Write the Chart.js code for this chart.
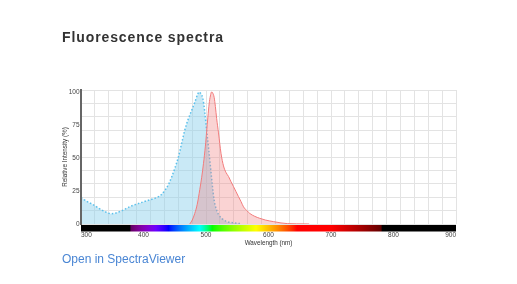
<!DOCTYPE html>
<html><head><meta charset="utf-8">
<script src="https://cdn.jsdelivr.net/npm/chart.js@4.4.0/dist/chart.umd.min.js"></script>
<style>
html,body{margin:0;padding:0;background:#fff;}
#wrap{position:relative;width:517px;height:284px;overflow:hidden;}
#c{position:absolute;left:0;top:0;}
#title{position:absolute;left:62px;top:29px;font:bold 14px/16px "Liberation Sans",Arial,sans-serif;letter-spacing:0.9px;color:#333;white-space:nowrap;}
#link{position:absolute;left:62px;top:252px;font:12px/14px "Liberation Sans",Arial,sans-serif;color:#4a86d4;white-space:nowrap;}
</style></head>
<body><div id="wrap"><canvas id="c" width="517" height="284"></canvas>
<div id="title">Fluorescence spectra</div>
<div id="link">Open in SpectraViewer</div></div>
<script>
const excitationWavelengths = [300,310,320,330,340,348,355,365,380,395,410,420,428,435,440,445,450,456,461,466,472,477,482,486,489,492,495,498,501,504,507,510,513,517,521,525,530,535,545,555];
const excitationValues      = [20,17,14.5,11.5,9,7.8,8.2,10,13.5,16,18.3,19.8,22,26,30,35.5,42,51,61,71,80,86,92,97.5,100,98.5,95,85,71,58,44,30,18,10.5,6.5,4.3,2.5,1.6,0.8,0.3];
const emissionWavelengths = [474,478,482,486,490,493,496,499,501,503,505,507,509,511,513,515,517,520,524,528,532,536,540,544,548,552,556,560,565,570,578,586,595,608,620,630,645,665];
const emissionValues      = [0,3,8,15,26,35,46,59,70,81,91,97,100,99,96,89,80,69,53.5,44,39,36,32,28.3,24.5,20.7,17,13,10.3,8,5.8,4.3,3,1.8,0.8,0.3,0.1,0];
const xTickValues = [300,400,500,600,700,800,900];
const yTickValues = [0,25,50,75,100];
const xRange = [300,900];
const yRange = [0,101.5];
const visibleRange = [380,780];

const F = '"Liberation Sans", Arial, sans-serif';

function wl2rgb(w){
  if (w < visibleRange[0] || w > visibleRange[1]) return 'rgb(0,0,0)';
  let r=0,g=0,b=0;
  if (w<440){r=-(w-440)/60;b=1;}
  else if (w<490){g=(w-440)/50;b=1;}
  else if (w<510){g=1;b=-(w-510)/20;}
  else if (w<580){r=(w-510)/70;g=1;}
  else if (w<645){r=1;g=-(w-645)/65;}
  else {r=1;}
  let f=1;
  if (w<420) f=0.3+0.7*(w-380)/40;
  else if (w>700) f=0.3+0.7*(780-w)/80;
  const c=v=>v<=0?0:Math.round(255*Math.pow(v*f,0.8));
  return 'rgb('+c(r)+','+c(g)+','+c(b)+')';
}

const spectrumBar = {
  id:'spectrumBar',
  afterDraw(chart){
    const {ctx, chartArea:a, scales:{x}} = chart;
    const x0=a.left, x1=a.right;
    const g=ctx.createLinearGradient(x0,0,x1,0);
    for (let w=x.min; w<=x.max; w+=2){
      const p=(x.getPixelForValue(w)-x0)/(x1-x0);
      g.addColorStop(Math.min(1,Math.max(0,p)), wl2rgb(w));
    }
    ctx.save();
    ctx.fillStyle=g;
    ctx.fillRect(x0,a.bottom+1,x1-x0,6.5);
    ctx.restore();
  }
};

const toPts=(xs,ys)=>xs.map((w,i)=>({x:w,y:ys[i]}));

new Chart(document.getElementById('c'),{
  type:'line',
  data:{datasets:[
    {label:'Emission',data:toPts(emissionWavelengths,emissionValues),borderColor:'#f27b7b',backgroundColor:'rgba(240,128,128,0.35)',borderWidth:1,fill:'origin',pointRadius:0,cubicInterpolationMode:'monotone',xAxisID:'x',yAxisID:'y'},
    {label:'Excitation',data:toPts(excitationWavelengths,excitationValues),borderColor:'#5bc0eb',backgroundColor:'rgba(135,206,235,0.45)',borderWidth:1.5,borderDash:[1.5,2],fill:'origin',pointRadius:0,cubicInterpolationMode:'monotone',xAxisID:'x',yAxisID:'y'}
  ]},
  options:{
    responsive:false,animation:false,devicePixelRatio:1,
    layout:{padding:{left:61,right:61,top:90,bottom:35}},
    plugins:{legend:{display:false},tooltip:{enabled:false}},
    scales:{
      x:{type:'linear',position:'bottom',min:xRange[0],max:xRange[1],
        afterBuildTicks:s=>{s.ticks=xTickValues.map(v=>({value:v}));},
        afterFit:s=>{s.height=25;},
        grid:{display:false,drawTicks:false},
        border:{display:false},
        ticks:{align:'inner',padding:7.4,font:{size:6.5,family:F},color:'#444',maxRotation:0,autoSkip:false},
        title:{display:true,text:'Wavelength (nm)',font:{size:6.3,family:F},color:'#333',padding:{top:0,bottom:2.2}}},
      y:{type:'linear',position:'left',min:yRange[0],max:yRange[1],
        afterBuildTicks:s=>{s.ticks=yTickValues.map(v=>({value:v}));},
        afterFit:s=>{s.width=20;},
        grid:{display:false,drawTicks:false},
        border:{display:true,color:'#666',width:2,z:1},
        ticks:{padding:1.5,font:{size:6.5,family:F},color:'#444'},
        title:{display:true,text:'Relative Intensity (%)',font:{size:6.3,family:F},color:'#333',padding:{top:0,bottom:0}}},
      gx:{type:'linear',position:'bottom',min:0,max:27,
        afterBuildTicks:s=>{s.ticks=Array.from({length:28},(_,i)=>({value:i}));},
        afterFit:s=>{s.height=0;},
        ticks:{display:false},grid:{color:'#e3e3e3',drawTicks:false},border:{display:false}},
      gy:{type:'linear',position:'left',min:0,max:10,
        afterBuildTicks:s=>{s.ticks=Array.from({length:11},(_,i)=>({value:i}));},
        afterFit:s=>{s.width=0;},
        ticks:{display:false},grid:{color:'#e3e3e3',drawTicks:false},border:{display:false}}
    }
  },
  plugins:[spectrumBar]
});
</script>
</body></html>
